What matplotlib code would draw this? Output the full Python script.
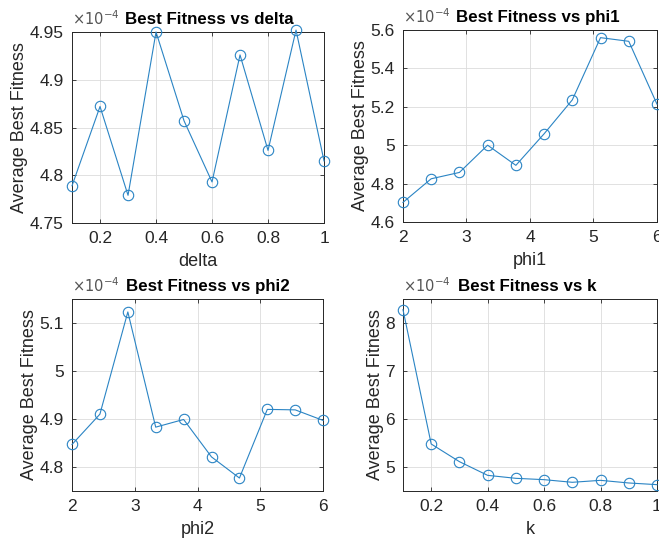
import numpy as np
import matplotlib
matplotlib.use('Agg')
import matplotlib.pyplot as plt
from matplotlib.ticker import FormatStrFormatter

# 数据 (单位: x1e-4)
delta_vals = [0.1, 0.2, 0.3, 0.4, 0.5, 0.6, 0.7, 0.8, 0.9, 1.0]
delta_fit = [4.789, 4.872, 4.779, 4.950, 4.857, 4.793, 4.926, 4.826, 4.952, 4.815]

phi1_vals = [2.0, 2.444, 2.889, 3.333, 3.778, 4.222, 4.667, 5.111, 5.556, 6.0]
phi1_fit = [4.702, 4.825, 4.858, 5.000, 4.895, 5.059, 5.236, 5.560, 5.541, 5.214]

phi2_vals = [2.0, 2.444, 2.889, 3.333, 3.778, 4.222, 4.667, 5.111, 5.556, 6.0]
phi2_fit = [4.847, 4.910, 5.123, 4.883, 4.899, 4.821, 4.777, 4.920, 4.919, 4.897]

k_vals = [0.1, 0.2, 0.3, 0.4, 0.5, 0.6, 0.7, 0.8, 0.9, 1.0]
k_fit = [8.278, 5.479, 5.111, 4.826, 4.764, 4.736, 4.681, 4.722, 4.667, 4.632]

plt.rcParams['font.family'] = ['Liberation Sans', 'DejaVu Sans']
line_color = '#2a84c4'
text_color = '#262626'

fig = plt.figure(figsize=(6.59, 5.45), dpi=100)

panels = [
    # (axes rect, x, y, xlabel, title, xlim, ylim, xticks, yticks, title x)
    ([0.1093, 0.5908, 0.3824, 0.3505], delta_vals, delta_fit, 'delta', 'Best Fitness vs delta',
     (0.1, 1.0), (4.75, 4.95), [0.2, 0.4, 0.6, 0.8, 1.0], [4.75, 4.8, 4.85, 4.9, 4.95], 0.545),
    ([0.6115, 0.5927, 0.3854, 0.3523], phi1_vals, phi1_fit, 'phi1', 'Best Fitness vs phi1',
     (2, 6), (4.6, 5.6), [2, 3, 4, 5, 6], [4.6, 4.8, 5.0, 5.2, 5.4, 5.6], 0.53),
    ([0.1093, 0.0991, 0.3810, 0.3523], phi2_vals, phi2_fit, 'phi2', 'Best Fitness vs phi2',
     (2, 6), (4.75, 5.15), [2, 3, 4, 5, 6], [4.8, 4.9, 5.0, 5.1], 0.54),
    ([0.6115, 0.0991, 0.3854, 0.3523], k_vals, k_fit, 'k', 'Best Fitness vs k',
     (0.1, 1.0), (4.5, 8.5), [0.2, 0.4, 0.6, 0.8, 1.0], [5, 6, 7, 8], 0.49),
]

for rect, x, y, xlab, title, xlim, ylim, xt, yt, tx in panels:
    ax = fig.add_axes(rect)
    ax.plot(x, y, '-o', color=line_color, linewidth=0.8, markersize=7.5,
            markerfacecolor='none', markeredgewidth=0.8, clip_on=False, zorder=3)
    ax.set_xlim(*xlim)
    ax.set_ylim(*ylim)
    ax.set_xticks(xt)
    ax.set_yticks(yt)
    ax.xaxis.set_major_formatter(FormatStrFormatter('%g'))
    ax.yaxis.set_major_formatter(FormatStrFormatter('%g'))
    ax.grid(True, color='#dcdcdc', linewidth=0.6)
    ax.set_axisbelow(True)
    ax.tick_params(direction='in', length=3, width=0.6, colors=text_color,
                   labelsize=12.5, top=True, right=True, pad=6)
    for s in ax.spines.values():
        s.set_linewidth(0.7)
        s.set_color(text_color)
    ax.set_xlabel(xlab, fontsize=13, color=text_color, labelpad=5)
    ax.set_ylabel('Average Best Fitness', fontsize=13, color=text_color, labelpad=1)
    ax.set_title(title, fontsize=12.2, fontweight='bold', x=tx, pad=6)
    ax.text(0.0, 1.035, r'$\times10^{-4}$', transform=ax.transAxes,
            fontsize=10.5, color='#555555', ha='left', va='baseline')

plt.savefig('out.png', dpi=100)
plt.close()
